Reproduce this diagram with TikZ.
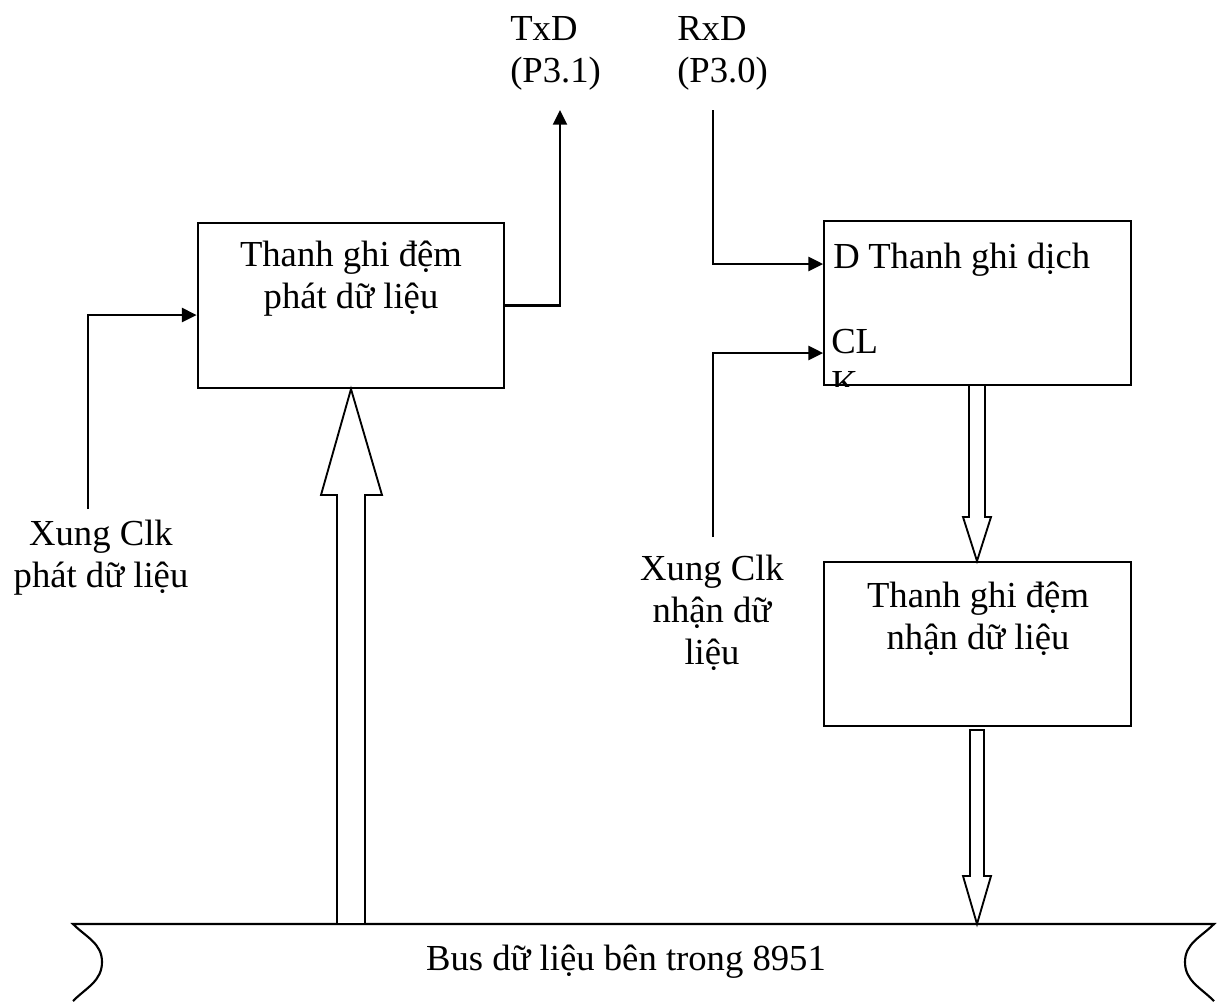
\documentclass[tikz,border=0pt]{standalone}
\usepackage{fontspec}
\setmainfont{Liberation Serif}
\usetikzlibrary{arrows.meta}
\newcommand{\lbfont}{\fontsize{27.5}{31.5}\selectfont}
\tikzset{
  lbl/.style={font=\lbfont, inner sep=0pt, anchor=base},
  box/.style={draw, line width=1.6pt, inner sep=0pt, minimum width=230pt},
  conn/.style={line width=1.6pt, -{Triangle[length=11pt,width=10.5pt]}},
  hollow/.style={draw, line width=1.4pt, fill=white},
}
\begin{document}
\begin{tikzpicture}[x=0.75pt,y=-0.75pt]
\useasboundingbox (0,0) rectangle (1221,1001);
% boxes
\node[box, minimum height=123.75pt] (LB) at (351,305.5) {};
\node[box, minimum height=123pt] (RB) at (977.5,303) {};
\node[box, minimum height=123pt] (LR) at (977.5,644) {};
% box texts
\node[lbl] (lb1) at (351,266) {Thanh ghi đệm};
\node[lbl] (lb2) at (351,308) {phát dữ liệu};
\node[lbl, anchor=base west] (rbD) at (833,268) {D};
\node[lbl, anchor=base west] (rb1) at (868,268) {Thanh ghi dịch};
\begin{scope}
\clip (RB.north west) rectangle (RB.south east);
\node[lbl, anchor=base west] (rbCL) at (831,353) {CL};
\node[lbl, anchor=base west] (rbK) at (831,395) {K};
\end{scope}
\node[lbl] (lr1) at (978,607) {Thanh ghi đệm};
\node[lbl] (lr2) at (978,649) {nhận dữ liệu};
% pin labels
\node[lbl, anchor=base west] (tx1) at (510,40) {TxD};
\node[lbl, anchor=base west] (tx2) at (510,82) {(P3.1)};
\node[lbl, anchor=base west] (rx1) at (677,40) {RxD};
\node[lbl, anchor=base west] (rx2) at (677,82) {(P3.0)};
% clock labels
\node[lbl] (cl1) at (101,545) {Xung Clk};
\node[lbl] (cl2) at (101,587) {phát dữ liệu};
\node[lbl] (cr1) at (712,580) {Xung Clk};
\node[lbl] (cr2) at (712,622) {nhận dữ};
\node[lbl] (cr3) at (712,664) {liệu};
% connector ends
\coordinate (txtip) at (560,110);
\coordinate (rxstart) at (713,110);
\coordinate (clkl) at (88,509);
\coordinate (clkr) at (713,537);
\draw[conn] (LB.east) -| (txtip);
\draw[conn] (rxstart) |- (RB.west |- 0,264);
\draw[conn] (clkl) |- (LB.west |- 0,315);
\draw[conn] (clkr) |- (RB.west |- 0,353);
% bus
\draw[line width=1.6pt] (73,1001) to[out=45,in=-90] (102,962) to[out=90,in=-45] (73,924)
  -- (1214,924) to[out=-135,in=90] (1185,962) to[out=-90,in=135] (1214,1001);
\node[lbl] (bus) at (626,970) {Bus dữ liệu bên trong 8951};
% hollow arrows
\draw[hollow] (LB.south) -- (382,495) -- (365,495) -- (365,924) -- (337,924) -- (337,495) -- (321,495) -- cycle;
\draw[hollow] (969,385) -- (985,385) -- (985,517) -- (991,517) -- (977,561) -- (963,517) -- (969,517) -- cycle;
\draw[hollow] (970,730) -- (984,730) -- (984,876) -- (991,876) -- (977,924) -- (963,876) -- (970,876) -- cycle;
\end{tikzpicture}
\end{document}
